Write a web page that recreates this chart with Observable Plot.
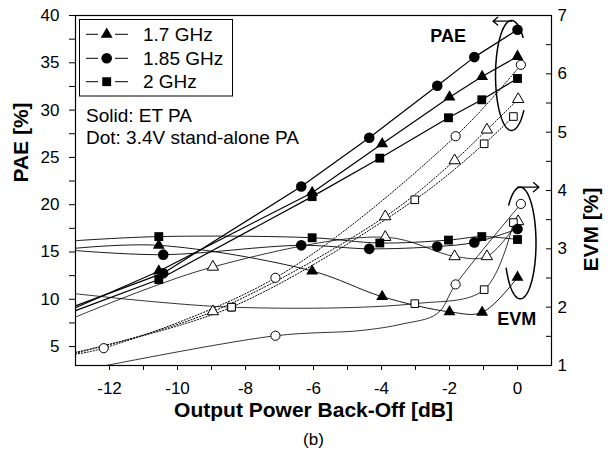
<!DOCTYPE html>
<html><head><meta charset="utf-8">
<script src="https://cdn.jsdelivr.net/npm/d3@7"></script>
<script src="https://cdn.jsdelivr.net/npm/@observablehq/plot@0.6"></script>
<style>
body{margin:0;background:#fff;}
#chart svg{display:block;}
</style></head><body><div id="chart"></div>
<script>
// ---------- data ----------
const freqs = ["1.7 GHz", "1.85 GHz", "2 GHz"];
const symbols = ["triangle", "circle", "square"];

// ET PA (solid, filled markers)
const etX17  = [-10.55, -6.04, -3.98, -2.0, -1.04, 0];
const etPAE17 = [12.97, 21.27, 26.44, 31.37, 33.55, 35.67];
const etEVM17 = [3.06, 2.62, 2.18, 1.92, 1.91, 2.51];
const etX185 = [-10.42, -6.36, -4.36, -2.36, -1.27, 0];
const etPAE185 = [12.76, 21.92, 27.07, 32.57, 35.6, 38.5];
const etEVM185 = [2.90, 3.06, 3.0, 3.04, 3.11, 3.34];
const etX2   = [-10.55, -6.04, -4.05, -2.03, -1.05, 0];
const etPAE2 = [12.09, 20.85, 24.92, 29.19, 31.09, 33.34];
const etEVM2 = [3.21, 3.19, 3.10, 3.15, 3.21, 3.16];

// 3.4V stand-alone PA (dotted, open markers)
const saX17  = [-8.96, -3.89, -1.85, -0.9, 0.02];
const saPAE17 = [8.71, 18.75, 24.67, 27.92, 31.15];
const saEVM17 = [2.69, 3.2, 2.87, 2.87, 3.47];
const saX185 = [-12.17, -7.12, -1.82, 0.1];
const saPAE185 = [4.83, 12.27, 27.24, 34.79];
const saEVM185 = [null, 1.51, 2.39, 3.77];
const saX2   = [-8.41, -3.02, -0.98, -0.12];
const saPAE2 = [9.17, 20.52, 26.44, 29.32];
const saEVM2 = [2.0, 2.06, 2.30, 3.45];

// where the drawn curves begin at the left (order: 1.7, 1.85, 2 GHz)
const etPAEStartX = [-13, -13, -13];
const etPAEStart  = [9.1, 9.3, 8.8];
const etEVMStartX = [-13, -13, -13];
const etEVMStart  = [3.01, 2.97, 3.14];
const saPAEStartX = [-13, -13, -13];
const saPAEStart  = [4.3, 4.2, 4.4];
const saEVMStartX = [-13, -12.1, -13];
const saEVMStart  = [1.83, 1.0, 2.23];
// shape of the 1.85 GHz stand-alone EVM curve between markers
const saEVM185BendX = [-4.6, -3.4, -2.36];
const saEVM185Bend  = [1.6, 1.71, 1.89];

// axes
const xDomain = [-13, 1];
const paeDomain = [3, 40];
const evmDomain = [1, 7];
const xTicks = [-12, -11, -10, -9, -8, -7, -6, -5, -4, -3, -2, -1, 0];
const xTickLabels = [-12, -10, -8, -6, -4, -2, 0];
const paeTicks = [5, 7.5, 10, 12.5, 15, 17.5, 20, 22.5, 25, 27.5, 30, 32.5, 35, 37.5, 40];
const paeTickLabels = [5, 10, 15, 20, 25, 30, 35, 40];
const evmTicks = [1.5, 2, 2.5, 3, 3.5, 4, 4.5, 5, 5.5, 6, 6.5];
const evmTickLabels = [1, 2, 3, 4, 5, 6, 7];

// annotations (ellipses + arrows), data units
const ellCX = [-0.176, 0.081];
const ellCY = [33.66, 15.95];       // PAE units
const ellRX = [0.47, 0.463];
const ellRY = [5.81, 5.9];
const ellFrom = [44, -153];
const ellTo = [320, 138];
const arrX1 = [-0.18, 0.0];
const arrX2 = [-0.72, 0.63];
const arrY  = [39.4, 21.85];

// ---------- helpers ----------
const toPAE = e => paeDomain[0] + (e - evmDomain[0]) * (paeDomain[1] - paeDomain[0]) / (evmDomain[1] - evmDomain[0]);
const fromPAE = p => evmDomain[0] + (p - paeDomain[0]) * (evmDomain[1] - evmDomain[0]) / (paeDomain[1] - paeDomain[0]);
const pts = (xs, ys, s, conv = v => v) => xs.map((x, i) => ({x, y: ys[i] == null ? null : conv(ys[i]), s})).filter(d => d.y != null);

const etX = [etX17, etX185, etX2], etPAE = [etPAE17, etPAE185, etPAE2], etEVM = [etEVM17, etEVM185, etEVM2];
const saX = [saX17, saX185, saX2], saPAE = [saPAE17, saPAE185, saPAE2], saEVM = [saEVM17, saEVM185, saEVM2];

const etPAELines = [], etEVMLines = [], saPAELines = [], saEVMLines = [];
const etPAEDots = [], etEVMDots = [], saPAEDots = [], saEVMDots = [];
freqs.forEach((f, i) => {
  etPAELines.push(...pts([etPAEStartX[i], ...etX[i]], [etPAEStart[i], ...etPAE[i]], f));
  etEVMLines.push(...pts([etEVMStartX[i], ...etX[i]], [etEVMStart[i], ...etEVM[i]], f, toPAE));
  saPAELines.push(...pts([saPAEStartX[i], ...saX[i]], [saPAEStart[i], ...saPAE[i]], f));
  etPAEDots.push(...pts(etX[i], etPAE[i], f).map(d => ({...d, sym: symbols[i]})));
  etEVMDots.push(...pts(etX[i], etEVM[i], f, toPAE).map(d => ({...d, sym: symbols[i]})));
  saPAEDots.push(...pts(saX[i], saPAE[i], f).map(d => ({...d, sym: symbols[i]})));
  saEVMDots.push(...pts(saX[i], saEVM[i], f, toPAE).map(d => ({...d, sym: symbols[i]})));
  if (i === 1) {
    const xs = [saEVMStartX[i], ...saX[i].slice(1, 2), ...saEVM185BendX, ...saX[i].slice(2)];
    const ys = [saEVMStart[i], ...saEVM[i].slice(1, 2), ...saEVM185Bend, ...saEVM[i].slice(2)];
    saEVMLines.push(...pts(xs, ys, f, toPAE));
  } else {
    saEVMLines.push(...pts([saEVMStartX[i], ...saX[i]], [saEVMStart[i], ...saEVM[i]], f, toPAE));
  }
});

const ellipses = [];
ellCX.forEach((cx, k) => {
  d3.range(ellFrom[k], ellTo[k] + 0.001, 2).forEach(t => {
    const a = t * Math.PI / 180;
    ellipses.push({k, x: cx + ellRX[k] * Math.cos(a), y: ellCY[k] + ellRY[k] * Math.sin(a)});
  });
});
const arrows = arrX1.map((x1, k) => ({x1, x2: arrX2[k], y: arrY[k]}));

const symSize = {triangle: 4.4, circle: 5.3, square: 5.0};
const symSizeOpen = {triangle: 4.2, circle: 4.6, square: 4.3};
const FONT = "'Liberation Sans', Arial, Helvetica, sans-serif";

const plot = Plot.plot({
  width: 615, height: 462,
  marginLeft: 75, marginRight: 64, marginTop: 15, marginBottom: 97,
  style: {fontFamily: FONT, fontSize: "17px", background: "white", color: "black", overflow: "visible"},
  x: {domain: xDomain},
  y: {domain: paeDomain},
  marks: [
    // axes
    Plot.axisX({ticks: xTicks, tickSize: 5, tickFormat: () => "", label: null}),
    Plot.axisX({ticks: xTickLabels, tickSize: 0, tickPadding: 16, tickFormat: d => String(d), label: null}),
    Plot.axisY({ticks: paeTicks, tickSize: 6, tickFormat: () => "", label: null}),
    Plot.axisY({ticks: paeTickLabels, tickSize: 0, tickPadding: 16, tickFormat: d => String(d), label: null}),
    Plot.axisY({anchor: "right", ticks: evmTicks.map(toPAE), tickSize: 6, dx: -6, tickFormat: () => "", label: null}),
    Plot.axisY({anchor: "right", ticks: evmTickLabels.map(toPAE), tickSize: 0, tickPadding: 6, tickFormat: d => String(Math.round(fromPAE(d))), label: null}),
    Plot.frame({stroke: "black", strokeWidth: 1.2}),
    // axis titles & caption
    Plot.text(["Output Power Back-Off [dB]"], {text: d => d, frameAnchor: "bottom", dy: 51, fontSize: 21, fontWeight: "bold"}),
    Plot.text(["(b)"], {text: d => d, frameAnchor: "bottom", dy: 79, fontSize: 17}),
    Plot.text(["PAE [%]"], {text: d => d, frameAnchor: "left", dx: -54, dy: -8, rotate: -90, fontSize: 21, fontWeight: "bold"}),
    Plot.text(["EVM [%]"], {text: d => d, frameAnchor: "right", dx: 40, dy: -3, rotate: -90, fontSize: 21, fontWeight: "bold"}),
    // lines
    Plot.line(saPAELines, {x: "x", y: "y", z: "s", stroke: "black", strokeWidth: 1, strokeDasharray: "1.2,1.8", curve: "catmull-rom", clip: true}),
    Plot.line(saEVMLines, {x: "x", y: "y", z: "s", stroke: "black", strokeWidth: 0.8, curve: "catmull-rom", clip: true}),
    Plot.line(etEVMLines, {x: "x", y: "y", z: "s", stroke: "black", strokeWidth: 0.9, curve: "catmull-rom", clip: true}),
    Plot.line(etPAELines, {x: "x", y: "y", z: "s", stroke: "black", strokeWidth: 1.2, curve: "linear", clip: true}),
    // markers
    ...["triangle", "circle", "square"].map(sym => Plot.dot(saPAEDots.concat(saEVMDots).filter(d => d.sym === sym), {x: "x", y: "y", symbol: sym, r: symSizeOpen[sym], fill: "white", stroke: "black", strokeWidth: 1})),
    ...["triangle", "circle", "square"].map(sym => Plot.dot(etPAEDots.concat(etEVMDots).filter(d => d.sym === sym), {x: "x", y: "y", symbol: sym, r: symSize[sym], fill: "black", stroke: "none"})),
    // annotations
    Plot.line(ellipses, {x: "x", y: "y", z: "k", stroke: "black", strokeWidth: 1.5, curve: "linear"}),
    Plot.arrow(arrows, {x1: "x1", x2: "x2", y1: "y", y2: "y", stroke: "black", strokeWidth: 1.3, headLength: 9, headAngle: 80}),
    Plot.text(["PAE"], {text: d => d, x: -2.04, y: 37.78, fontSize: 18, fontWeight: "bold"}),
    Plot.text(["EVM"], {text: d => d, x: -0.02, y: toPAE(1.8), fontSize: 18, fontWeight: "bold"})
  ]
});
document.getElementById("chart").appendChild(plot);

// ---------- legend ----------
const svg = d3.select(plot);
const lg = svg.append("g").attr("font-family", FONT).attr("font-size", 19).attr("fill", "black").attr("text-anchor", "start");
lg.append("rect").attr("x", 79.5).attr("y", 19.5).attr("width", 153).attr("height", 76.5)
  .attr("fill", "white").attr("stroke", "black").attr("stroke-width", 1);
const rowY = [34.3, 58.3, 81.7];
const d3sym = {triangle: d3.symbolTriangle, circle: d3.symbolCircle, square: d3.symbolSquare};
freqs.forEach((f, i) => {
  const y = rowY[i];
  lg.append("line").attr("x1", 86).attr("x2", 98).attr("y1", y).attr("y2", y).attr("stroke", "black").attr("stroke-width", 1);
  lg.append("line").attr("x1", 115).attr("x2", 128).attr("y1", y).attr("y2", y).attr("stroke", "black").attr("stroke-width", 1);
  const r = symSize[symbols[i]];
  lg.append("path").attr("transform", `translate(106.7,${y})`)
    .attr("d", d3.symbol(d3sym[symbols[i]], Math.PI * r * r)()).attr("fill", "black");
  lg.append("text").attr("x", 143).attr("y", y).attr("dy", "0.35em").attr("text-anchor", "start").text(f);
});
lg.append("text").attr("x", 86).attr("y", 115).attr("dy", "0.35em").attr("text-anchor", "start").text("Solid: ET PA");
lg.append("text").attr("x", 86).attr("y", 137).attr("dy", "0.35em").attr("text-anchor", "start").text("Dot: 3.4V stand-alone PA");
</script>
</body></html>
